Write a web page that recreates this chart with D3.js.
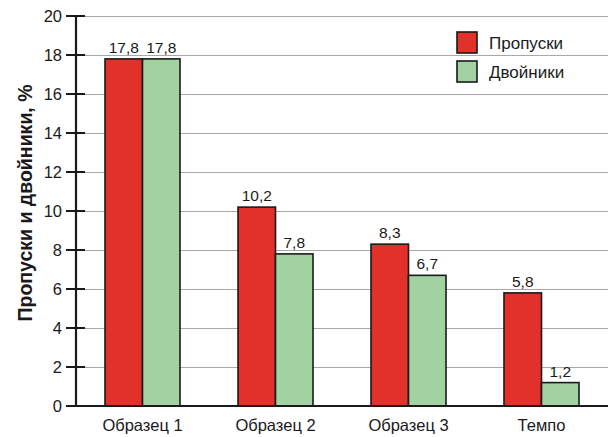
<!DOCTYPE html>
<html><head><meta charset="utf-8">
<script src="https://cdn.jsdelivr.net/npm/d3@7"></script>
<style>
html,body{margin:0;padding:0;background:#fff;}
text{font-family:"Liberation Sans",Arial,sans-serif;fill:#1a1a1a;}
</style></head>
<body>
<svg id="chart" width="608" height="437"></svg>
<script>
const categories = ["Образец 1", "Образец 2", "Образец 3", "Темпо"];
const seriesNames = ["Пропуски", "Двойники"];
const propuski = [17.8, 10.2, 8.3, 5.8];
const dvoyniki = [17.8, 7.8, 6.7, 1.2];
const yTicks = [0, 2, 4, 6, 8, 10, 12, 14, 16, 18, 20];
const colors = ["#e2302a", "#a3d2a2"];
const yTitle = "Пропуски и двойники, %";

const svg = d3.select("#chart");
const mLeft = 76, mRight = 608, mTop = 16, mBottom = 406;

const x = d3.scaleBand().domain(categories).range([mLeft, mRight]).paddingInner(0.436).paddingOuter(0.218);
const xs = d3.scaleBand().domain(seriesNames).range([0, x.bandwidth()]);
const y = d3.scaleLinear().domain([0, 20]).range([mBottom, mTop]);

// gridlines
svg.append("g").selectAll("line").data(yTicks.filter(d => d > 0)).join("line")
  .attr("x1", mLeft).attr("x2", mRight)
  .attr("y1", d => Math.round(y(d)) + 0.5).attr("y2", d => Math.round(y(d)) + 0.5)
  .attr("stroke", "#a8a8a8").attr("stroke-width", 1);

const data = categories.map((c, i) => ({ cat: c, vals: [propuski[i], dvoyniki[i]] }));

const groups = svg.append("g").selectAll("g").data(data).join("g")
  .attr("transform", d => `translate(${x(d.cat)},0)`);

groups.selectAll("rect").data(d => d.vals.map((v, j) => ({ v, s: seriesNames[j], j }))).join("rect")
  .attr("x", d => xs(d.s)).attr("width", xs.bandwidth())
  .attr("y", d => y(d.v)).attr("height", d => y(0) - y(d.v))
  .attr("fill", d => colors[d.j]).attr("stroke", "#1a1a1a").attr("stroke-width", 1.6);

groups.selectAll("text.val").data(d => d.vals.map((v, j) => ({ v, s: seriesNames[j] }))).join("text")
  .attr("class", "val")
  .attr("x", d => xs(d.s) + xs.bandwidth() / 2).attr("y", d => y(d.v) - 6)
  .attr("text-anchor", "middle").attr("font-size", 15.5)
  .text(d => String(d.v.toFixed(1)).replace(".", ","));

// x axis
const xAxis = svg.append("g").attr("transform", `translate(0,${mBottom})`)
  .call(d3.axisBottom(x).tickSize(0).tickPadding(13));
xAxis.select(".domain").remove();
xAxis.selectAll("text").attr("font-size", 16.5).attr("fill", "#1a1a1a").attr("dy", "0.71em").attr("font-family", "Liberation Sans, Arial, sans-serif");
svg.append("line").attr("x1", 66).attr("x2", mRight).attr("y1", mBottom).attr("y2", mBottom)
  .attr("stroke", "#1a1a1a").attr("stroke-width", 2);

// y axis
const yAxis = svg.append("g").attr("transform", `translate(${mLeft},0)`)
  .call(d3.axisLeft(y).tickValues(yTicks).tickSize(0).tickPadding(14).tickFormat(d3.format("d")));
yAxis.select(".domain").remove();
yAxis.selectAll("text").attr("font-size", 16.5).attr("fill", "#1a1a1a").attr("font-family", "Liberation Sans, Arial, sans-serif");
svg.append("g").selectAll("line").data(yTicks).join("line")
  .attr("x1", 66).attr("x2", 85).attr("y1", d => y(d)).attr("y2", d => y(d))
  .attr("stroke", "#1a1a1a").attr("stroke-width", 2);
svg.append("line").attr("x1", mLeft).attr("x2", mLeft).attr("y1", mTop).attr("y2", mBottom + 1)
  .attr("stroke", "#1a1a1a").attr("stroke-width", 2.2);

// y title
svg.append("text").attr("transform", "translate(32,203) rotate(-90)")
  .attr("text-anchor", "middle").attr("font-size", 19.5).attr("font-weight", "bold")
  .text(yTitle);

// legend
const lg = svg.append("g").attr("transform", "translate(457,32)");
seriesNames.forEach((s, i) => {
  lg.append("rect").attr("x", 0).attr("y", i * 29).attr("width", 20).attr("height", 21)
    .attr("fill", colors[i]).attr("stroke", "#1a1a1a").attr("stroke-width", 1.6);
  lg.append("text").attr("x", 32).attr("y", i * 29 + 11).attr("dy", "0.35em")
    .attr("font-size", 17).text(s);
});
</script>
</body></html>
